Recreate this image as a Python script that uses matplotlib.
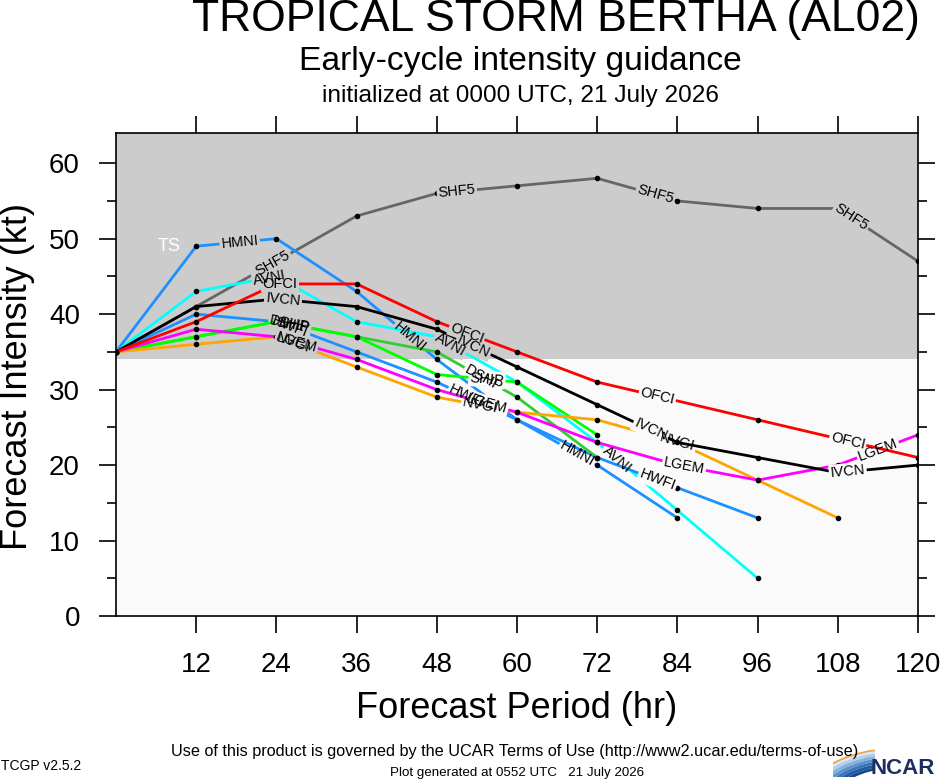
import numpy as np
import matplotlib
matplotlib.use("Agg")
import matplotlib.pyplot as plt
from matplotlib.ticker import MultipleLocator
from matplotlib.patches import Wedge, Arc

plt.rcParams['font.family'] = ['Liberation Sans', 'DejaVu Sans']

# forecast hours and model intensities (kt); None = no forecast at that hour
hours = [0, 12, 24, 36, 48, 60, 72, 84, 96, 108, 120]
shf5 = [35, 41, 47, 53, 56, 57, 58, 55, 54, 54, 47]
hmni = [35, 49, 50, 43, 34, 26, 20, 13]
avni = [35, 43, 45, 39, 37, 31, 23, 14, 5]
hwfi = [35, 40, 39, 35, 31, 26, 21, 17, 13]
ship = [35, 37, 39, 37, 32, 31, 24]
dshp = [35, 37, 39, 37, 35, 29, 21]
nvgi = [35, 36, 37, 33, 29, 27, 26, 23, 18, 13]
lgem = [35, 38, 37, 34, 30, 27, 23, 20, 18, 20, 24]
ivcn = [35, 41, 42, 41, 38, 33, 28, 23, 21, 19, 20]
ofci = [35, 39, 44, 44, 39, 35, 31, None, 26, None, 21]

# where along each track the model name is written (hours)
lab_shf5 = [23.5, 51, 80.7, 110]
lab_hmni = [18.5, 44, 69]
lab_avni = [23, 50, 75]
lab_hwfi = [26, 52.5, 81]
lab_ship = [26.5, 55.5]
lab_dshp = [26, 55]
lab_nvgi = [26.5, 54.5, 84]
lab_lgem = [27, 55.5, 85, 114]
lab_ivcn = [25, 53.5, 80, 109.5]
lab_ofci = [24.5, 52.5, 81, 109.5]

ts_wind = 34

models = [
    ('SHF5', shf5, '#666666', lab_shf5),
    ('HMNI', hmni, '#1e90ff', lab_hmni),
    ('AVNI', avni, '#00ffff', lab_avni),
    ('HWFI', hwfi, '#1e90ff', lab_hwfi),
    ('DSHP', dshp, '#33cc33', lab_dshp),
    ('SHIP', ship, '#00ff00', lab_ship),
    ('NVGI', nvgi, '#ffa500', lab_nvgi),
    ('LGEM', lgem, '#ff00ff', lab_lgem),
    ('IVCN', ivcn, '#000000', lab_ivcn),
    ('OFCI', ofci, '#ff0000', lab_ofci),
]

fig = plt.figure(figsize=(9.4, 7.8), dpi=100)
ax = fig.add_axes([116/940, 1-616/780, (918-116)/940, (616-133)/780])
ax.set_xlim(0, 120)
ax.set_ylim(0, 64)
ax.axhspan(ts_wind, 64, color='#cccccc', zorder=0, lw=0)
ax.axhspan(0, ts_wind, color='#fafafa', zorder=0, lw=0)

fig.canvas.draw()

z = 2
for name, vals, col, labs in models:
    x = np.array(hours[:len(vals)], dtype=float)
    y = np.array([np.nan if v is None else v for v in vals], dtype=float)
    m = ~np.isnan(y)
    x, y = x[m], y[m]
    ax.plot(x, y, color=col, lw=2, zorder=z, solid_capstyle='butt')
    ax.plot(x, y, 'o', color='k', ms=3, zorder=z + 0.1)
    for h in labs:
        v = np.interp(h, x, y)
        i = min(np.searchsorted(x, h), len(x) - 1)
        p1 = ax.transData.transform((x[i-1], y[i-1]))
        p2 = ax.transData.transform((x[i], y[i]))
        ang = np.degrees(np.arctan2(p2[1] - p1[1], p2[0] - p1[0]))
        bg = '#cccccc' if v >= ts_wind else '#fafafa'
        kw = dict(rotation=ang, rotation_mode='anchor', ha='center', va='center', fontsize=10.5)
        # gap in the line under the name
        ax.text(h, v, name, color=(0, 0, 0, 0), zorder=z + 0.5,
                bbox=dict(boxstyle='square,pad=0.1', fc=bg, ec='none'), **kw)
        ax.text(h, v, name, color='k', zorder=50, **kw)
    z += 1

ax.text(8, 49, 'TS', color='white', fontsize=13, ha='center', va='center', zorder=1)

ax.set_xticks(range(12, 121, 12))
ax.set_yticks(range(0, 61, 10))
ax.yaxis.set_minor_locator(MultipleLocator(5))
ax.tick_params(axis='x', which='major', direction='out', top=True, bottom=True,
               length=12, width=1.2, labelsize=20, pad=14)
ax.tick_params(axis='y', which='major', direction='out', left=True, right=True,
               length=12, width=1.2, labelsize=20, pad=14)
ax.tick_params(axis='y', which='minor', direction='out', left=True, right=True,
               length=6.5, width=1.2)
for s in ax.spines.values():
    s.set_linewidth(1.2)

fig.text(18/940, 1-377/780, 'Forecast Intensity (kt)', rotation=90, fontsize=26,
         ha='center', va='center')
fig.text(517/940, 1-708/780, 'Forecast Period (hr)', fontsize=26, ha='center', va='center')

fig.text(192/940, 1-31/780, 'TROPICAL STORM BERTHA (AL02)', fontsize=32, ha='left', va='baseline')
fig.text(520/940, 1-70/780, 'Early-cycle intensity guidance', fontsize=24.2, ha='center', va='baseline')
fig.text(520/940, 1-102/780, 'initialized at 0000 UTC, 21 July 2026', fontsize=17.6, ha='center', va='baseline')

fig.text(515/940, 1-756/780, 'Use of this product is governed by the UCAR Terms of Use '
         '(http://www2.ucar.edu/terms-of-use)', fontsize=11.7, ha='center', va='baseline')
fig.text(517/940, 1-776/780, 'Plot generated at 0552 UTC   21 July 2026', fontsize=9.6,
         ha='center', va='baseline')
fig.text(1/940, 1-770/780, 'TCGP v2.5.2', fontsize=10, ha='left', va='baseline')

# NCAR logo (swoosh + text)
lax = fig.add_axes([833/940, 3/780, 42/940, 28/780])
lax.set_xlim(0, 1)
lax.set_ylim(0, 1)
lax.axis('off')
blues = ['#dbe8f5', '#b4cfeb', '#86b1dd', '#5a92cc', '#3773b8', '#1f5aa0', '#15478a']
for k, c in enumerate(blues):
    lax.add_patch(Wedge((1.45, -1.3), 2.3 - k * 0.1, 95, 160, width=0.1, fc=c, ec='none'))
lax.add_patch(Arc((1.45, -1.3), 4.6, 4.6, theta1=95, theta2=150, color='#f0a040', lw=1.2))
fig.text(870/940, 1-774/780, 'NCAR', fontsize=16, fontweight='bold', color='#1c2f5c',
         ha='left', va='baseline')

fig.savefig('out.png', dpi=100)
